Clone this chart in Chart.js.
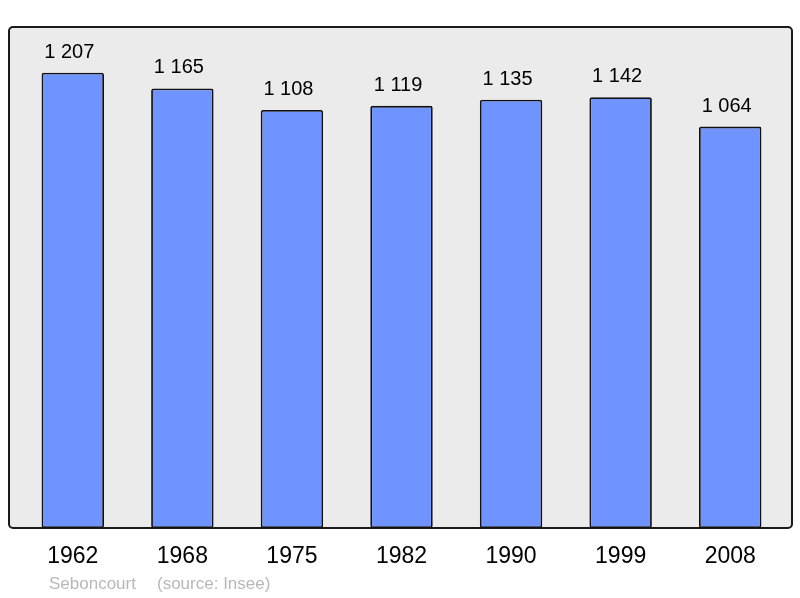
<!DOCTYPE html>
<html>
<head>
<meta charset="utf-8">
<script src="https://cdn.jsdelivr.net/npm/chart.js@4/dist/chart.umd.min.js"></script>
<style>
  html, body { margin: 0; padding: 0; background: #fff; }
  #wrap { width: 800px; height: 598px; }
</style>
</head>
<body>
<div id="wrap"><canvas id="pop"></canvas></div>
<script>
const years = ['1962', '1968', '1975', '1982', '1990', '1999', '2008'];
const population = [1207, 1165, 1108, 1119, 1135, 1142, 1064];
const commune = 'Seboncourt';
const source = '(source: Insee)';

const FONT = '"Liberation Sans", Arial, sans-serif';

// séparateur de milliers : espace
function fmt(n) {
  return String(n).replace(/\B(?=(\d{3})+(?!\d))/g, ' ');
}

// fond gris arrondi + textes autour
const frame = {
  id: 'frame',
  beforeDraw(chart) {
    const ctx = chart.ctx;
    ctx.save();
    ctx.beginPath();
    ctx.roundRect(9, 27, 783, 501, 4);
    ctx.fillStyle = '#ebebeb';
    ctx.fill();
    ctx.lineWidth = 2;
    ctx.strokeStyle = '#1a1a1a';
    ctx.stroke();
    ctx.restore();
  },
  afterDatasetsDraw(chart) {
    const ctx = chart.ctx;
    const meta = chart.getDatasetMeta(0);
    const x = chart.scales.x;
    ctx.save();
    ctx.fillStyle = '#000';
    ctx.textAlign = 'center';
    ctx.textBaseline = 'alphabetic';
    ctx.font = '20px ' + FONT;
    meta.data.forEach((bar, i) => {
      ctx.fillText(fmt(population[i]), bar.x - 3.5, bar.y - 15);
    });
    ctx.font = '23px ' + FONT;
    ctx.textBaseline = 'middle';
    years.forEach((y, i) => {
      ctx.fillText(y, x.getPixelForValue(i), 557);
    });
    ctx.font = '17px ' + FONT;
    ctx.fillStyle = '#b8b8b8';
    ctx.textAlign = 'left';
    ctx.fillText(commune, 49, 584);
    ctx.fillText(source, 157, 584);
    ctx.restore();
  }
};

new Chart(document.getElementById('pop'), {
  type: 'bar',
  data: {
    labels: years,
    datasets: [{
      data: population,
      backgroundColor: '#7094ff',
      borderColor: '#111',
      borderWidth: 1.8,
      borderRadius: 2,
      borderSkipped: false,
      categoryPercentage: 1,
      barPercentage: 0.57
    }]
  },
  options: {
    responsive: true,
    maintainAspectRatio: false,
    animation: false,
    layout: { padding: { left: 18, right: 15, top: 27, bottom: 70 } },
    plugins: { legend: { display: false }, tooltip: { enabled: false } },
    scales: {
      x: { display: false },
      y: { display: false, min: 0, max: 1328 }
    }
  },
  plugins: [frame]
});
</script>
</body>
</html>
